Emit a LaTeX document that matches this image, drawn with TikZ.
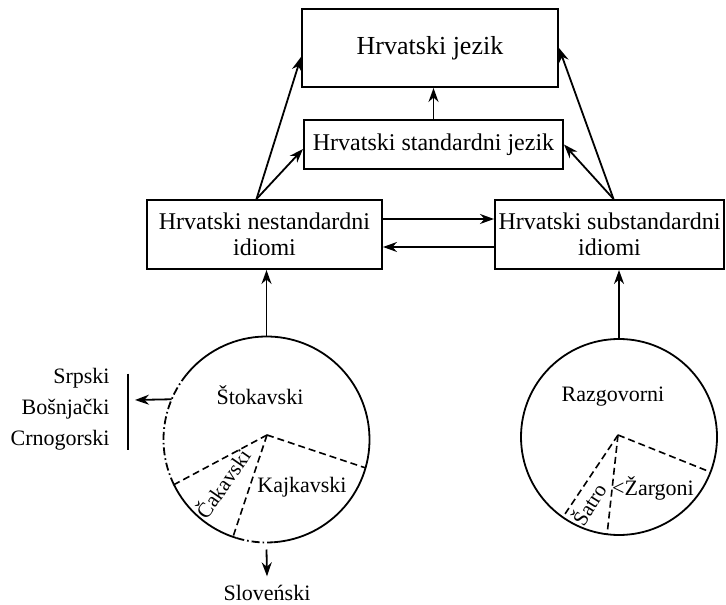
\documentclass[tikz,border=0pt]{standalone}
\usepackage{fontspec}
\setmainfont{Liberation Serif}
\usetikzlibrary{arrows.meta, positioning}

\begin{document}
\begin{tikzpicture}[x=0.5pt, y=0.5pt,
    box/.style={rectangle, draw=black, line width=1pt, inner sep=1pt, align=center, font=\fontsize{12}{13}\selectfont},
    region/.style={circle, inner sep=0pt, outer sep=0pt},
    lbl/.style={font=\fontsize{11}{13}\selectfont, inner sep=1pt},
    arrow/.style={-{Stealth[length=7pt, width=5pt]}, line width=0.9pt},
    border/.style={line width=0.9pt},
    dialect/.style={line width=0.8pt, dash pattern=on 3.5pt off 2pt},
    open/.style={line width=0.9pt, dash pattern=on 4pt off 1.5pt on 0.8pt off 1.5pt}
  ]
  \useasboundingbox (0,0) rectangle (726,604);

  % Boxes
  \node (jezik) [box, minimum width=128pt, minimum height=39pt, font=\fontsize{13}{15}\selectfont] at (430,556) {Hrvatski jezik};
  \node (standard) [box, minimum width=129.5pt, minimum height=24.5pt, below=15.5pt of jezik, xshift=1.75pt] {Hrvatski standardni jezik};
  \node (nestand) [box, minimum width=117.5pt, minimum height=34.5pt] at (264.5,369.5) {Hrvatski nestandardni\\idiomi};
  \node (substand) [box, minimum width=114.5pt, minimum height=34.5pt] at (609.5,369.5) {Hrvatski substandardni\\idiomi};

  % Circles
  \node (sto) [region, minimum size=103pt] at (266.5,164.5) {};
  \node (raz) [region, minimum size=98pt] at (619,167) {};
  \coordinate (stohub) at (267,169);
  \coordinate (razhub) at (618,169);

  \draw[border] (sto.274) arc[start angle=274, end angle=501, radius=103];
  \draw[open] (sto.141) arc[start angle=141, end angle=206, radius=103];
  \draw[border] (sto.206) arc[start angle=206, end angle=253, radius=103];
  \draw[open] (sto.253) arc[start angle=253, end angle=274, radius=103];
  \draw[border] (raz) circle[radius=98];

  \draw[dialect] (stohub) -- (sto.344);
  \draw[dialect] (stohub) -- (sto.206);
  \draw[dialect] (stohub) -- (sto.251);
  \draw[dialect] (razhub) -- (raz.339);
  \draw[dialect] (razhub) -- (raz.235);
  \draw[dialect] (razhub) -- (raz.263);

  % Labels
  \node (stolbl) [lbl] at (260,209) {Štokavski};
  \node (kaj) [lbl] at (302,117) {Kajkavski};
  \node (cak) [lbl, rotate=55, font=\fontsize{10.5}{12}\selectfont] at (222,121) {Čakavski};
  \node (razlbl) [lbl] at (613,207) {Razgovorni};
  \node (zar) [lbl] at (653,116) {<Žargoni};
  \node (sat) [lbl, rotate=58, font=\fontsize{10.5}{12}\selectfont] at (588,100) {Šatro};
  \node (jezici) [lbl, align=right, anchor=east, inner sep=0pt, font=\fontsize{11}{15.5}\selectfont] at (110,195) {Srpski\\Bošnjački\\Crnogorski};
  \node (slo) [lbl, anchor=base] at (267,4) {Sloveński};

  % Arrows
  \draw[arrow] ([xshift=-4pt]nestand.north) -- ([yshift=-4.5pt]jezik.west);
  \draw[arrow] ([xshift=-4pt]nestand.north) -- ([yshift=-2.25pt]standard.west);
  \draw[arrow] (standard.north) -- (standard.north |- jezik.south);
  \draw[arrow] ([xshift=2pt]substand.north) -- (jezik.east);
  \draw[arrow] ([xshift=2pt]substand.north) -- (standard.east);
  \draw[arrow] ([yshift=7.75pt]nestand.east) -- ([yshift=7.75pt]substand.west);
  \draw[arrow] ([yshift=-6.25pt]substand.west) -- ([yshift=-6.25pt]nestand.east);
  \draw[arrow] (sto.north) -- (sto.north |- nestand.south);
  \draw[arrow] (raz.north) -- (raz.north |- substand.south);
  \draw[arrow] (sto.157) -- ([xshift=12.5pt, yshift=4.5pt]jezici.east);
  \draw[border] ([xshift=9pt, yshift=-3pt]jezici.north east) -- ([xshift=9pt]jezici.south east);
  \draw[arrow] ([yshift=-3.5pt]sto.south) -- ([yshift=3pt]slo.north);

\end{tikzpicture}
\end{document}
